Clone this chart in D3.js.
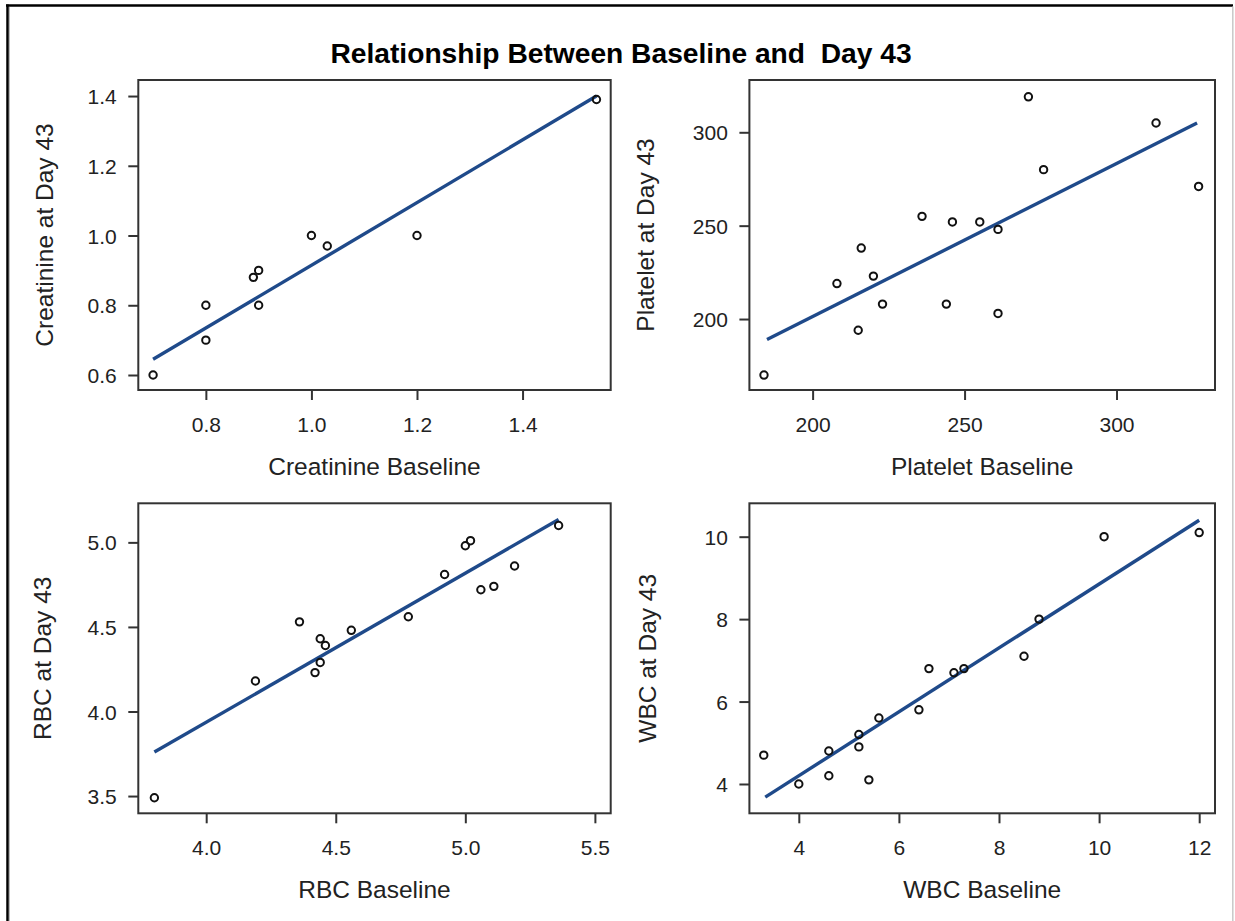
<!DOCTYPE html>
<html>
<head>
<meta charset="utf-8">
<script src="https://cdn.jsdelivr.net/npm/d3@7"></script>
<style>
  html, body { margin: 0; padding: 0; background: #fff; }
  svg { display: block; }
</style>
</head>
<body>
<script>
// ---------------- DATA ----------------
const chartTitle = "Relationship Between Baseline and  Day 43";

// Creatinine
const creatBaseline = [0.70, 0.80, 0.80, 0.89, 0.90, 0.90, 1.00, 1.03, 1.20, 1.54];
const creatDay43    = [0.60, 0.80, 0.70, 0.88, 0.90, 0.80, 1.00, 0.97, 1.00, 1.39];
const creatFitX = [0.70, 1.54];
const creatFitY = [0.645, 1.40];
const creatXTicks = [0.8, 1.0, 1.2, 1.4];
const creatYTicks = [0.6, 0.8, 1.0, 1.2, 1.4];
const creatXDomain = [0.672, 1.567];
const creatYDomain = [0.557, 1.446];

// Platelet
const platBaseline = [184, 208, 215, 216, 220, 223, 236, 244, 246, 255, 261, 261, 271, 276, 313, 327];
const platDay43    = [170, 219, 194, 238, 223, 208, 255, 208, 252, 252, 248, 203, 319, 280, 305, 271];
const platFitX = [185, 326.5];
const platFitY = [189, 305];
const platXTicks = [200, 250, 300];
const platYTicks = [200, 250, 300];
const platXDomain = [179.2, 332.4];
const platYDomain = [162.0, 328.0];

// RBC
const rbcBaseline = [3.80, 4.19, 4.36, 4.42, 4.44, 4.44, 4.46, 4.56, 4.78, 4.92, 5.00, 5.02, 5.06, 5.11, 5.19, 5.36];
const rbcDay43    = [3.49, 4.18, 4.53, 4.23, 4.43, 4.29, 4.39, 4.48, 4.56, 4.81, 4.98, 5.01, 4.72, 4.74, 4.86, 5.10];
const rbcFitX = [3.80, 5.36];
const rbcFitY = [3.76, 5.135];
const rbcXTicks = [4.0, 4.5, 5.0, 5.5];
const rbcYTicks = [3.5, 4.0, 4.5, 5.0];
const rbcXDomain = [3.738, 5.561];
const rbcYDomain = [3.398, 5.231];

// WBC
const wbcBaseline = [3.3, 4.0, 4.6, 4.6, 5.2, 5.2, 5.4, 5.6, 6.4, 6.6, 7.1, 7.3, 8.5, 8.8, 10.1, 12.0];
const wbcDay43    = [4.7, 4.0, 4.8, 4.2, 5.2, 4.9, 4.1, 5.6, 5.8, 6.8, 6.7, 6.8, 7.1, 8.0, 10.0, 10.1];
const wbcFitX = [3.33, 12.0];
const wbcFitY = [3.68, 10.40];
const wbcXTicks = [4, 6, 8, 10, 12];
const wbcYTicks = [4, 6, 8, 10];
const wbcXDomain = [3.013, 12.316];
const wbcYDomain = [3.289, 10.81];

// ---------------- LAYOUT ----------------
const W = 1235, H = 921;
const FONT = "'Liberation Sans', Arial, Helvetica, sans-serif";
const TEXT = "#222";
const FRAME = "#333";
const FIT = "#1f4a8a";

const panels = [
  { x: creatBaseline, y: creatDay43, fx: creatFitX, fy: creatFitY, xt: creatXTicks, yt: creatYTicks,
    xd: creatXDomain, yd: creatYDomain, xf: d3.format(".1f"), yf: d3.format(".1f"),
    xl: "Creatinine Baseline", yl: "Creatinine at Day 43",
    left: 138.3, right: 610.7, top: 80, bottom: 390, ylOff: 85 },
  { x: platBaseline, y: platDay43, fx: platFitX, fy: platFitY, xt: platXTicks, yt: platYTicks,
    xd: platXDomain, yd: platYDomain, xf: d3.format("d"), yf: d3.format("d"),
    xl: "Platelet Baseline", yl: "Platelet at Day 43",
    left: 749.4, right: 1215, top: 80, bottom: 390, ylOff: 95 },
  { x: rbcBaseline, y: rbcDay43, fx: rbcFitX, fy: rbcFitY, xt: rbcXTicks, yt: rbcYTicks,
    xd: rbcXDomain, yd: rbcYDomain, xf: d3.format(".1f"), yf: d3.format(".1f"),
    xl: "RBC Baseline", yl: "RBC at Day 43",
    left: 138.3, right: 610.7, top: 503.3, bottom: 813.3, ylOff: 87 },
  { x: wbcBaseline, y: wbcDay43, fx: wbcFitX, fy: wbcFitY, xt: wbcXTicks, yt: wbcYTicks,
    xd: wbcXDomain, yd: wbcYDomain, xf: d3.format("d"), yf: d3.format("d"),
    xl: "WBC Baseline", yl: "WBC at Day 43",
    left: 749.4, right: 1215, top: 503.3, bottom: 813.3, ylOff: 93 }
];

const svg = d3.select("body").append("svg")
  .attr("width", W).attr("height", H)
  .attr("viewBox", `0 0 ${W} ${H}`)
  .style("background", "#fff");

// Outer border
svg.append("line").attr("x1", 6).attr("x2", 1233).attr("y1", 5.5).attr("y2", 5.5)
  .attr("stroke", "#000").attr("stroke-width", 2.5);
svg.append("line").attr("x1", 7.5).attr("x2", 7.5).attr("y1", 4.5).attr("y2", H)
  .attr("stroke", "#000").attr("stroke-width", 2.5);
svg.append("line").attr("x1", 9.5).attr("x2", 9.5).attr("y1", 7).attr("y2", H)
  .attr("stroke", "#bbb").attr("stroke-width", 1);
svg.append("line").attr("x1", 1232.8).attr("x2", 1232.8).attr("y1", 6.5).attr("y2", H)
  .attr("stroke", "#c8c8c8").attr("stroke-width", 1.5);

// Title
svg.append("text")
  .attr("x", 621).attr("y", 62.7)
  .attr("text-anchor", "middle")
  .attr("xml:space", "preserve")
  .style("white-space", "pre")
  .attr("font-family", FONT).attr("font-size", 28.2).attr("font-weight", "bold")
  .attr("fill", "#000")
  .text(chartTitle);

panels.forEach(p => {
  const xs = d3.scaleLinear().domain(p.xd).range([p.left, p.right]);
  const ys = d3.scaleLinear().domain(p.yd).range([p.bottom, p.top]);
  const g = svg.append("g");

  // X axis
  const gx = g.append("g")
    .attr("transform", `translate(0,${p.bottom})`)
    .call(d3.axisBottom(xs).tickValues(p.xt).tickSize(10).tickFormat(p.xf));
  gx.select(".domain").remove();
  gx.selectAll(".tick line").attr("stroke", FRAME).attr("stroke-width", 2);
  gx.selectAll(".tick text")
    .attr("y", 42).attr("dy", null)
    .attr("fill", TEXT).attr("font-family", FONT).attr("font-size", 21);

  // Y axis
  const gy = g.append("g")
    .attr("transform", `translate(${p.left},0)`)
    .call(d3.axisLeft(ys).tickValues(p.yt).tickSize(10).tickFormat(p.yf));
  gy.select(".domain").remove();
  gy.selectAll(".tick line").attr("stroke", FRAME).attr("stroke-width", 2);
  gy.selectAll(".tick text")
    .attr("x", -21.5).attr("dy", "0.36em")
    .attr("fill", TEXT).attr("font-family", FONT).attr("font-size", 21);

  // Axis titles
  g.append("text")
    .attr("x", (p.left + p.right) / 2).attr("y", p.bottom + 85)
    .attr("text-anchor", "middle")
    .attr("font-family", FONT).attr("font-size", 24.5).attr("fill", TEXT)
    .text(p.xl);
  g.append("text")
    .attr("transform", `translate(${p.left - p.ylOff},${(p.top + p.bottom) / 2}) rotate(-90)`)
    .attr("text-anchor", "middle")
    .attr("font-family", FONT).attr("font-size", 24.5).attr("fill", TEXT)
    .text(p.yl);

  // Fit line
  const fitPts = p.fx.map((v, i) => [v, p.fy[i]]);
  g.append("path")
    .datum(fitPts)
    .attr("d", d3.line().x(d => xs(d[0])).y(d => ys(d[1])))
    .attr("fill", "none").attr("stroke", FIT).attr("stroke-width", 3.4);

  // Points
  const pts = p.x.map((v, i) => [v, p.y[i]]);
  g.append("g").selectAll("circle").data(pts).join("circle")
    .attr("cx", d => xs(d[0])).attr("cy", d => ys(d[1]))
    .attr("r", 3.7)
    .attr("fill", "none").attr("stroke", "#111").attr("stroke-width", 2);

  // Frame
  g.append("rect")
    .attr("x", p.left).attr("y", p.top)
    .attr("width", p.right - p.left).attr("height", p.bottom - p.top)
    .attr("fill", "none").attr("stroke", FRAME).attr("stroke-width", 2);
});
</script>
</body>
</html>
